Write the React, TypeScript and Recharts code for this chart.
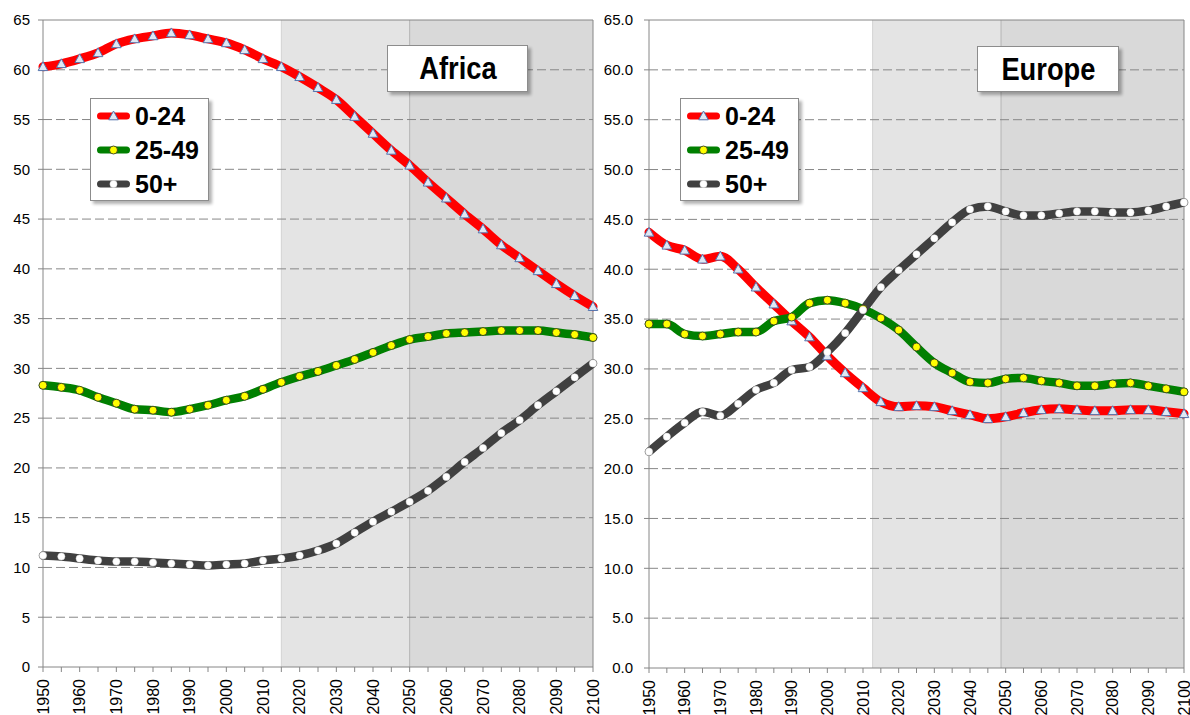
import React from 'react'
import { Legend, Line, LineChart, ReferenceArea, ReferenceLine, XAxis, YAxis } from 'recharts'

// share of population by age group, %, every 5 years
const years = [
  1950, 1955, 1960, 1965, 1970, 1975, 1980, 1985, 1990, 1995,
  2000, 2005, 2010, 2015, 2020, 2025, 2030, 2035, 2040, 2045,
  2050, 2055, 2060, 2065, 2070, 2075, 2080, 2085, 2090, 2095, 2100,
]

const africaYoung = [
  60.3, 60.6, 61.1, 61.7, 62.6, 63.1, 63.4, 63.7, 63.5, 63.1,
  62.7, 62.0, 61.1, 60.3, 59.3, 58.2, 57.0, 55.3, 53.6, 51.9,
  50.4, 48.7, 47.1, 45.5, 44.0, 42.4, 41.1, 39.8, 38.5, 37.3, 36.2,
]
const africaMid = [
  28.3, 28.1, 27.8, 27.1, 26.5, 25.9, 25.8, 25.6, 25.9, 26.3,
  26.8, 27.2, 27.9, 28.6, 29.2, 29.7, 30.3, 30.9, 31.6, 32.3,
  32.9, 33.2, 33.5, 33.6, 33.7, 33.8, 33.8, 33.8, 33.6, 33.4, 33.1,
]
const africaOld = [
  11.2, 11.1, 10.9, 10.7, 10.6, 10.6, 10.5, 10.4, 10.3, 10.2,
  10.3, 10.4, 10.7, 10.9, 11.2, 11.7, 12.4, 13.5, 14.6, 15.6,
  16.6, 17.7, 19.1, 20.6, 22.0, 23.5, 24.8, 26.3, 27.7, 29.1, 30.5,
]

const europeYoung = [
  43.7, 42.4, 41.9, 41.0, 41.3, 40.0, 38.2, 36.5, 34.8, 33.2,
  31.3, 29.6, 28.1, 26.7, 26.2, 26.3, 26.2, 25.8, 25.4, 25.0,
  25.2, 25.6, 25.9, 26.0, 25.9, 25.8, 25.8, 25.9, 25.9, 25.7, 25.5,
]
const europeMid = [
  34.5, 34.5, 33.5, 33.3, 33.5, 33.7, 33.7, 34.8, 35.2, 36.6,
  36.9, 36.6, 36.0, 35.1, 33.9, 32.2, 30.6, 29.6, 28.7, 28.6,
  29.0, 29.1, 28.8, 28.6, 28.3, 28.3, 28.5, 28.6, 28.3, 28.0, 27.7,
]
const europeOld = [
  21.7, 23.2, 24.6, 25.7, 25.3, 26.5, 27.9, 28.6, 29.9, 30.2,
  31.7, 33.6, 35.9, 38.2, 39.9, 41.5, 43.1, 44.7, 46.0, 46.3,
  45.8, 45.4, 45.4, 45.6, 45.8, 45.8, 45.7, 45.7, 45.9, 46.3, 46.7,
]

const yTicks = [0, 5, 10, 15, 20, 25, 30, 35, 40, 45, 50, 55, 60, 65]

// shaded projection periods (start of light band, start of dark band, end)
const africaShade = [2015, 2050, 2100]
const europeShade = [2012.7, 2048.7, 2100]

const series = [
  { key: 'young', name: '0-24', color: '#ff0000', marker: 'triangle', width: 9 },
  { key: 'mid', name: '25-49', color: '#008000', marker: 'yellow', width: 8.5 },
  { key: 'old', name: '50+', color: '#404040', marker: 'white', width: 8.5 },
]

const FONT = "'Liberation Sans', Arial, sans-serif"

const toRows = (young: number[], mid: number[], old: number[]) =>
  years.map((year, i) => ({ year, young: young[i], mid: mid[i], old: old[i] }))

function Marker({ cx, cy, kind }: { cx: number; cy: number; kind: string }) {
  if (cx == null || cy == null) return <g />
  if (kind === 'triangle') {
    return (
      <path
        d={`M${cx},${cy - 5} L${cx + 4.8},${cy + 3.8} L${cx - 4.8},${cy + 3.8} Z`}
        fill="#dfe8f4"
        stroke="#5575ae"
        strokeWidth={1}
      />
    )
  }
  if (kind === 'yellow') {
    return <circle cx={cx} cy={cy} r={4} fill="#ffff00" stroke="#262626" strokeWidth={0.8} />
  }
  return <circle cx={cx} cy={cy} r={3.6} fill="#ffffff" stroke="#e0e0e0" strokeWidth={0.5} />
}

function YearTick(props: any) {
  const { x, y, payload } = props
  if (payload.value % 10 !== 0) return <g />
  return (
    <text
      x={x}
      y={y}
      transform={`rotate(-90 ${x} ${y})`}
      textAnchor="end"
      dominantBaseline="central"
      fontSize={16}
      fontFamily={FONT}
      fill="#000"
    >
      {payload.value}
    </text>
  )
}

function LegendBox(props: any) {
  const payload: any[] = props.payload || []
  return (
    <div
      style={{
        width: 119,
        height: 103,
        boxSizing: 'border-box',
        background: '#fff',
        border: '1px solid #8c8c8c',
        boxShadow: '3px 3px 3px rgba(0,0,0,0.3)',
        paddingLeft: 6,
      }}
    >
      {payload.map((entry, i) => {
        const s = series.find((d) => d.key === entry.dataKey) || series[i]
        return (
          <div key={s.key} style={{ height: 34, display: 'flex', alignItems: 'center' }}>
            <svg width={33} height={14} style={{ marginRight: 5 }}>
              <line x1={3.5} y1={7} x2={29.5} y2={7} stroke={s.color} strokeWidth={7} strokeLinecap="round" />
              <Marker cx={16.5} cy={7} kind={s.marker} />
            </svg>
            <span style={{ fontFamily: FONT, fontWeight: 'bold', fontSize: 25, lineHeight: 1, color: '#000' }}>
              {s.name}
            </span>
          </div>
        )
      })}
    </div>
  )
}

type PanelProps = {
  rows: any[]
  shade: number[]
  width: number
  yWidth: number
  marginRight: number
  xHeight: number
  yTickMargin: number
  yFormat: (v: number) => string
  legendLeft: number
}

function Panel({ rows, shade, width, yWidth, marginRight, xHeight, yTickMargin, yFormat, legendLeft }: PanelProps) {
  return (
    <LineChart
      width={width}
      height={715}
      data={rows}
      margin={{ top: 20, right: marginRight, bottom: 0, left: 0 }}
    >
      <XAxis
        dataKey="year"
        type="number"
        domain={[1950, 2100]}
        ticks={years}
        interval={0}
        height={xHeight}
        tickSize={5}
        tickMargin={7}
        tick={<YearTick />}
        stroke="#868686"
        axisLine={{ stroke: '#868686' }}
        tickLine={{ stroke: '#868686' }}
      />
      <YAxis
        type="number"
        domain={[0, 65]}
        ticks={yTicks}
        interval={0}
        width={yWidth}
        tickSize={5}
        tickMargin={yTickMargin}
        tickFormatter={yFormat}
        tick={{ fill: '#000', fontSize: 15, fontFamily: FONT }}
        axisLine={{ stroke: '#868686' }}
        tickLine={{ stroke: '#868686' }}
      />
      <ReferenceArea x1={shade[0]} x2={shade[1]} fill="#e4e4e4" fillOpacity={1} stroke="none" />
      <ReferenceArea x1={shade[1]} x2={shade[2]} fill="#d9d9d9" fillOpacity={1} stroke="none" />
      <ReferenceLine x={shade[0]} stroke="#d3d3d3" />
      <ReferenceLine x={shade[1]} stroke="#b4b4b4" />
      {yTicks
        .filter((v) => v > 0 && v < 65)
        .map((v) => (
          <ReferenceLine key={v} y={v} stroke="#878787" strokeDasharray="9 4" />
        ))}
      <ReferenceLine y={65} stroke="#868686" />
      <ReferenceLine x={2100} stroke="#868686" />
      {series.map((s) => (
        <Line
          key={s.key}
          dataKey={s.key}
          name={s.name}
          type="monotone"
          stroke={s.color}
          strokeWidth={s.width}
          strokeLinecap="round"
          strokeLinejoin="round"
          dot={(p: any) => <Marker key={`${s.key}-${p.index}`} cx={p.cx} cy={p.cy} kind={s.marker} />}
          activeDot={false}
          isAnimationActive={false}
        />
      ))}
      <Legend
        layout="vertical"
        align="center"
        verticalAlign="middle"
        content={<LegendBox />}
        wrapperStyle={{ left: legendLeft, top: 98, width: 'auto', height: 'auto' }}
      />
    </LineChart>
  )
}

function TitleBox({ left, top, width, height, text }: { left: number; top: number; width: number; height: number; text: string }) {
  return (
    <div
      style={{
        position: 'absolute',
        left,
        top,
        width,
        height,
        boxSizing: 'border-box',
        background: '#fff',
        border: '1px solid #8c8c8c',
        boxShadow: '3px 3px 3px rgba(0,0,0,0.3)',
        display: 'flex',
        alignItems: 'center',
        justifyContent: 'center',
      }}
    >
      <span
        style={{
          fontFamily: FONT,
          fontWeight: 'bold',
          fontSize: 31,
          lineHeight: 1,
          color: '#000',
          display: 'inline-block',
          transform: 'scaleX(0.88)',
        }}
      >
        {text}
      </span>
    </div>
  )
}

export default function App() {
  const africa = toRows(africaYoung, africaMid, africaOld)
  const europe = toRows(europeYoung, europeMid, europeOld)
  return (
    <div style={{ position: 'absolute', left: 0, top: 0, width: 1190, height: 715, background: '#fff', overflow: 'hidden' }}>
      <div style={{ position: 'absolute', left: 0, top: 0 }}>
        <Panel
          rows={africa}
          shade={africaShade}
          width={600}
          yWidth={43}
          marginRight={7}
          xHeight={48}
          yTickMargin={8}
          yFormat={(v) => String(v)}
          legendLeft={90}
        />
      </div>
      <div style={{ position: 'absolute', left: 600, top: 0 }}>
        <Panel
          rows={europe}
          shade={europeShade}
          width={590}
          yWidth={49}
          marginRight={6}
          xHeight={47}
          yTickMargin={11}
          yFormat={(v) => v.toFixed(1)}
          legendLeft={80}
        />
      </div>
      <TitleBox left={387} top={45} width={141} height={47} text="Africa" />
      <TitleBox left={977} top={46} width={142} height={46} text="Europe" />
    </div>
  )
}
